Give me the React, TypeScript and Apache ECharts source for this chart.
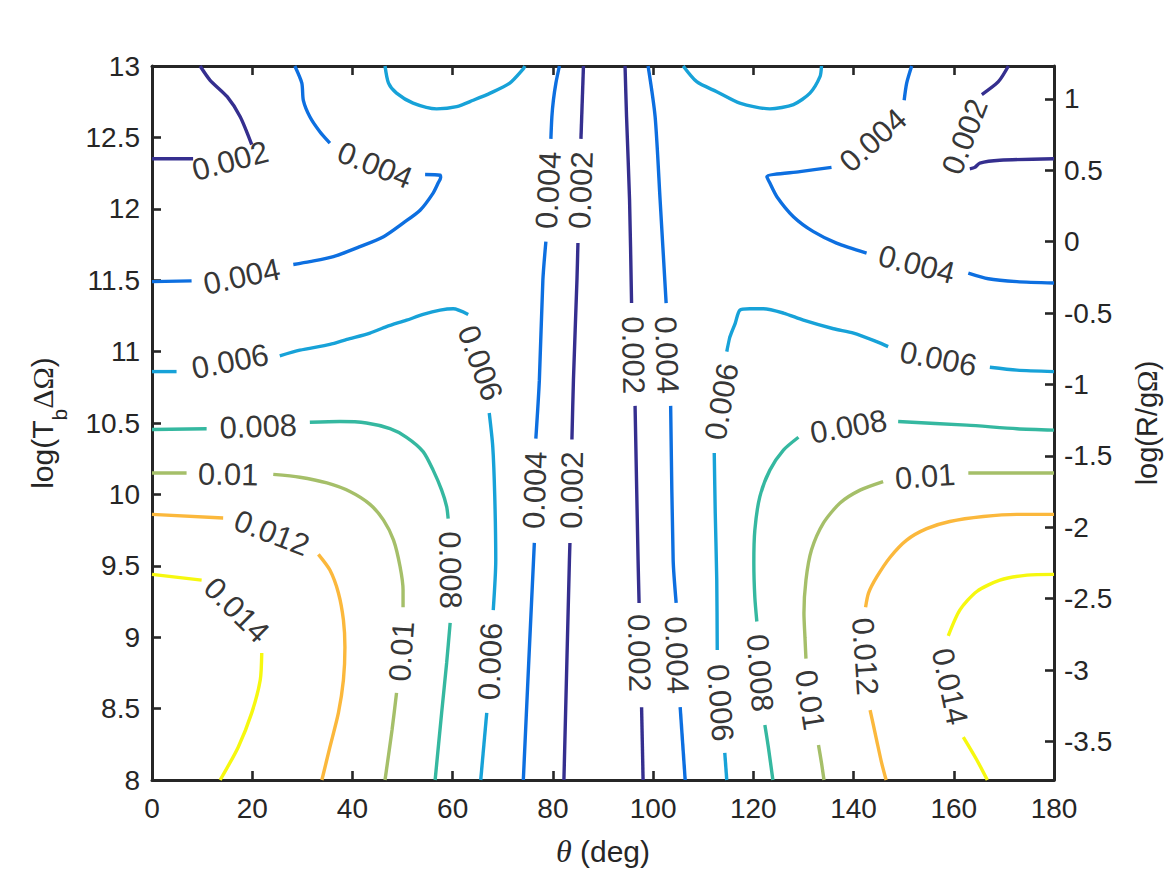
import React, { useEffect, useRef } from "react";
import * as echarts from "echarts";

// ---- axis setup ----
const X_TICKS_STEP = 20;
const LEFT_MIN = 8;
const LEFT_MAX = 13;
const RIGHT_MIN = -3.77;
const RIGHT_MAX = 1.23;

// ---- contour levels ----
const LEVEL_TEXT = ["0.002", "0.004", "0.006", "0.008", "0.01", "0.012", "0.014"];
const LEVEL_COLORS = ["#352f8f", "#0d6fe0", "#17a2d8", "#35b8a0", "#a5bf69", "#fbb83c", "#f6f80f"];

// visible pieces of each contour, as [theta (deg), log(Tb dOmega)]
const C_002 = [
  [[9.6, 13], [11.6, 12.9], [15.0, 12.785], [17.6, 12.645], [19.9, 12.45]],
  [[8.2, 12.35], [0, 12.35]],
  [[86.1, 13], [85.6, 12.49]],
  [[85.0, 11.76], [84.8, 11.5], [84.1, 10.8], [83.8, 10.385]],
  [[83.4, 9.66], [83.3, 9.54], [82.2, 8.0]],
  [[94.4, 13], [94.7, 12.645], [95.3, 12.06], [95.7, 11.34]],
  [[96.4, 10.62], [97.0, 9.54], [97.2, 9.24]],
  [[97.7, 8.51], [98.0, 8.0]],
  [[170.9, 13], [168.9, 12.89], [165.6, 12.8]],
  [[163.2, 12.28], [164.2, 12.29], [165.2, 12.32], [169.2, 12.34], [180, 12.35]],
];
const C_004 = [
  [[28.5, 13], [29.9, 12.88], [30.2, 12.76], [31.5, 12.645], [33.5, 12.54], [35.5, 12.46]],
  [[54.5, 12.24], [57.5, 12.235], [57.6, 12.22], [57.1, 12.18], [56.1, 12.11], [53.5, 11.99], [50.1, 11.9], [46.2, 11.805], [41.5, 11.735], [36.2, 11.665], [31.5, 11.63], [28.2, 11.61]],
  [[7.9, 11.495], [0, 11.49]],
  [[81.3, 13], [80.6, 12.88], [80.1, 12.76], [79.8, 12.645], [79.6, 12.49]],
  [[78.6, 11.77], [78.0, 11.5], [77.3, 10.8], [76.6, 10.39]],
  [[76.3, 9.66], [75.2, 8.84], [74.1, 8.0]],
  [[99.0, 13], [100.4, 12.645], [101.4, 12.06], [102.6, 11.34]],
  [[103.5, 10.62], [104.0, 9.54], [104.6, 9.24]],
  [[105.4, 8.51], [106.4, 8.0]],
  [[151.6, 13], [150.6, 12.88], [150.1, 12.76]],
  [[135.6, 12.29], [129.3, 12.26], [122.7, 12.225], [123.3, 12.18], [124.7, 12.085], [128.0, 11.945], [132.0, 11.84], [136.6, 11.76], [142.6, 11.69]],
  [[162.9, 11.55], [166.9, 11.51], [172.6, 11.49], [180, 11.48]],
];
const C_006 = [
  [[46.5, 13], [47.2, 12.88], [48.8, 12.81], [52.1, 12.74], [56.8, 12.7], [60.8, 12.715], [64.1, 12.76], [67.5, 12.81], [71.4, 12.88], [74.1, 12.98], [74.4, 13]],
  [[106.0, 13], [108.7, 12.89], [112.7, 12.82], [117.3, 12.74], [123.3, 12.7], [128.0, 12.73], [131.3, 12.81], [133.3, 12.925], [133.6, 13]],
  [[0, 10.86], [4.9, 10.86]],
  [[25.5, 10.97], [29.5, 11.01], [35.5, 11.05], [38.9, 11.085], [43.5, 11.13], [46.8, 11.175], [50.8, 11.22], [54.1, 11.26], [57.5, 11.29], [60.1, 11.3], [63.1, 11.26]],
  [[67.3, 10.57], [68.0, 10.335], [68.4, 9.985], [68.6, 9.54], [68.1, 9.19]],
  [[66.8, 8.47], [65.6, 8.0]],
  [[180, 10.86], [172.6, 10.87], [167.2, 10.89]],
  [[146.9, 11.035], [144.6, 11.07], [140.0, 11.13], [136.0, 11.16], [130.0, 11.22], [126.0, 11.27], [122.0, 11.3], [119.3, 11.3], [117.3, 11.29], [116.4, 11.2], [115.3, 11.1], [114.7, 11.0]],
  [[112.2, 10.29], [112.4, 9.87], [112.7, 9.4], [112.8, 8.91]],
  [[114.3, 8.19], [114.7, 8.0]],
];
const C_008 = [
  [[0, 10.455], [10.9, 10.46]],
  [[31.5, 10.505], [37.5, 10.51], [42.8, 10.5], [47.5, 10.46], [50.8, 10.4], [54.1, 10.3], [56.1, 10.17], [57.8, 10.03], [58.8, 9.915], [59.1, 9.83]],
  [[59.5, 9.1], [58.8, 8.82], [57.8, 8.47], [56.5, 8.0]],
  [[180, 10.45], [172.6, 10.46], [162.6, 10.485], [148.9, 10.51]],
  [[129.0, 10.4], [126.0, 10.31], [123.3, 10.17], [121.3, 9.985], [120.3, 9.75], [120.1, 9.52], [120.3, 9.28], [120.7, 9.11]],
  [[122.3, 8.385], [123.0, 8.23], [123.9, 8.0]],
];
const C_010 = [
  [[0, 10.15], [6.9, 10.15]],
  [[24.2, 10.14], [29.5, 10.12], [34.9, 10.08], [39.5, 10.02], [43.5, 9.93], [46.2, 9.82], [48.2, 9.68], [49.5, 9.495], [50.1, 9.33], [50.1, 9.21]],
  [[48.8, 8.61], [47.9, 8.35], [46.5, 8.0]],
  [[180, 10.15], [162.9, 10.15]],
  [[145.9, 10.09], [141.3, 10.03], [137.3, 9.94], [134.0, 9.8], [131.6, 9.61], [130.5, 9.4], [130.1, 9.17], [130.3, 9.0], [130.5, 8.85]],
  [[133.0, 8.245], [133.6, 8.12], [134.1, 8.0]],
];
const C_012 = [
  [[0, 9.86], [14.2, 9.835]],
  [[33.2, 9.58], [35.5, 9.47], [37.2, 9.31], [38.2, 9.12], [38.5, 8.93], [38.2, 8.7], [37.2, 8.47], [35.5, 8.23], [33.9, 8.0]],
  [[180, 9.86], [172.6, 9.86], [165.9, 9.845], [159.2, 9.81], [154.6, 9.76], [150.6, 9.68], [147.3, 9.56], [144.6, 9.42], [143.0, 9.31], [142.4, 9.21]],
  [[143.3, 8.49], [144.6, 8.28], [145.6, 8.12], [146.5, 8.0]],
];
const C_014 = [
  [[0, 9.44], [9.9, 9.4]],
  [[21.9, 8.89], [21.6, 8.7], [19.9, 8.47], [17.2, 8.23], [13.6, 8.0]],
  [[180, 9.44], [174.6, 9.435], [169.2, 9.4], [164.6, 9.32], [161.2, 9.19], [158.9, 9.01]],
  [[161.9, 8.3], [164.6, 8.14], [166.7, 8.0]],
];

// inline label anchor points per level
const L_002 = [[15.6, 12.335], [85.6, 12.13], [83.8, 10.03], [96.0, 10.975], [97.2, 8.89], [162.2, 12.505]];
const L_004 = [[44.5, 12.305], [17.9, 11.525], [79.1, 12.13], [76.4, 10.03], [102.7, 10.975], [104.7, 8.875], [143.9, 12.48], [152.6, 11.61]];
const L_006 = [[15.6, 10.93], [65.5, 10.92], [67.5, 8.83], [156.9, 10.95], [113.7, 10.65], [113.4, 8.54]];
const L_008 = [[21.2, 10.475], [59.5, 9.47], [139.0, 10.475], [121.3, 8.75]];
const L_010 = [[15.2, 10.14], [49.8, 8.9], [154.3, 10.125], [131.3, 8.56]];
const L_012 = [[23.9, 9.73], [142.3, 8.865]];
const L_014 = [[16.9, 9.19], [159.2, 8.655]];

// label rotation (style), degrees counter-clockwise
const R_002 = [15, 88, 89, -89, -89, 69];
const R_004 = [-22, 12, 87, 88, -88, -88, 42, -14];
const R_006 = [11, -70, 88, -11, 80, -86];
const R_008 = [2, -89, 10, -86];
const R_010 = [-1, 86, 4, -81];
const R_012 = [-21, -86];
const R_014 = [-45, -78];

const CONTOURS = [C_002, C_004, C_006, C_008, C_010, C_012, C_014];
const LABEL_POS = [L_002, L_004, L_006, L_008, L_010, L_012, L_014];
const LABEL_ROT = [R_002, R_004, R_006, R_008, R_010, R_012, R_014];

const SANS = "'Liberation Sans', Arial, Helvetica, sans-serif";
const SERIF = "'Liberation Serif', 'DejaVu Serif', serif";
const AXIS_COLOR = "#262626";

export default function App() {
  const ref = useRef<HTMLDivElement>(null);

  useEffect(() => {
    if (!ref.current) return;
    const chart = echarts.init(ref.current, undefined, { renderer: "svg" });

    const series: any[] = [];
    CONTOURS.forEach((segs, li) => {
      segs.forEach((seg) => {
        series.push({
          type: "line",
          xAxisIndex: 0,
          yAxisIndex: 0,
          data: seg,
          symbol: "none",
          showSymbol: false,
          smooth: 0.25,
          silent: true,
          z: 2,
          lineStyle: { color: LEVEL_COLORS[li], width: 3.4 },
        });
      });
    });
    LABEL_POS.forEach((pts, li) => {
      series.push({
        type: "scatter",
        xAxisIndex: 0,
        yAxisIndex: 0,
        symbolSize: 1,
        silent: true,
        z: 3,
        itemStyle: { color: "rgba(0,0,0,0)" },
        label: {
          show: true,
          position: "inside",
          formatter: LEVEL_TEXT[li],
          color: "#000000",
          fontSize: 31,
          fontFamily: SANS,
        },
        data: pts.map((p, i) => ({ value: p, label: { rotate: LABEL_ROT[li][i] } })),
      });
    });

    const axisLine = { show: true, onZero: false, lineStyle: { color: AXIS_COLOR, width: 3 } };
    const axisTick = { show: true, inside: true, length: 9, lineStyle: { color: AXIS_COLOR, width: 2.6 } };

    chart.setOption({
      animation: false,
      backgroundColor: "#ffffff",
      grid: { left: 152, right: 113, top: 66, bottom: 95, containLabel: false },
      xAxis: [
        {
          type: "value",
          position: "bottom",
          min: 0,
          max: 180,
          interval: X_TICKS_STEP,
          axisLine,
          axisTick,
          splitLine: { show: false },
          axisLabel: { color: AXIS_COLOR, fontSize: 28, fontFamily: SANS, margin: 14 },
        },
        {
          type: "value",
          position: "top",
          min: 0,
          max: 180,
          interval: X_TICKS_STEP,
          axisLine,
          axisTick,
          splitLine: { show: false },
          axisLabel: { show: false },
        },
      ],
      yAxis: [
        {
          type: "value",
          position: "left",
          min: LEFT_MIN,
          max: LEFT_MAX,
          interval: 0.5,
          axisLine,
          axisTick,
          splitLine: { show: false },
          axisLabel: { color: AXIS_COLOR, fontSize: 28, fontFamily: SANS, margin: 12 },
        },
        {
          type: "value",
          position: "right",
          min: RIGHT_MIN,
          max: RIGHT_MAX,
          splitNumber: 10,
          axisLine,
          axisTick,
          splitLine: { show: false },
          axisLabel: {
            color: AXIS_COLOR,
            fontSize: 28,
            fontFamily: SANS,
            margin: 10,
            formatter: (v: number) => {
              const k = v * 2;
              if (Math.abs(k - Math.round(k)) > 1e-6) return "";
              return String(Math.round(k) / 2);
            },
          },
        },
      ],
      graphic: [
        {
          type: "text",
          x: 603,
          y: 851,
          silent: true,
          style: {
            text: "{th|θ}{n| (deg)}",
            align: "center",
            verticalAlign: "middle",
            fill: AXIS_COLOR,
            fontSize: 30,
            fontFamily: SANS,
            rich: {
              th: { fontSize: 32, fontFamily: SERIF, fontStyle: "italic", fill: AXIS_COLOR },
              n: { fontSize: 30, fontFamily: SANS, fill: AXIS_COLOR },
            },
          },
        },
        {
          type: "text",
          x: 42,
          y: 423,
          rotation: Math.PI / 2,
          silent: true,
          style: {
            text: "{n|log(T}{sub|b}{sym|ΔΩ}{n|)}",
            align: "center",
            verticalAlign: "middle",
            fill: AXIS_COLOR,
            fontSize: 30,
            fontFamily: SANS,
            rich: {
              n: { fontSize: 30, fontFamily: SANS, fill: AXIS_COLOR, lineHeight: 56 },
              sym: { fontSize: 30, fontFamily: SERIF, fill: AXIS_COLOR, lineHeight: 56 },
              sub: { fontSize: 21, fontFamily: SANS, fill: AXIS_COLOR, lineHeight: 20, verticalAlign: "bottom" },
            },
          },
        },
        {
          type: "text",
          x: 1147,
          y: 423,
          rotation: Math.PI / 2,
          silent: true,
          style: {
            text: "{n|log(R/g}{sym|Ω}{n|)}",
            align: "center",
            verticalAlign: "middle",
            fill: AXIS_COLOR,
            fontSize: 29,
            fontFamily: SANS,
            rich: {
              n: { fontSize: 29, fontFamily: SANS, fill: AXIS_COLOR },
              sym: { fontSize: 29, fontFamily: SERIF, fill: AXIS_COLOR },
            },
          },
        },
      ],
      series,
    });

    return () => chart.dispose();
  }, []);

  return (
    <div
      ref={ref}
      style={{ position: "absolute", left: 0, top: 0, width: 1167, height: 875, background: "#fff" }}
    />
  );
}
